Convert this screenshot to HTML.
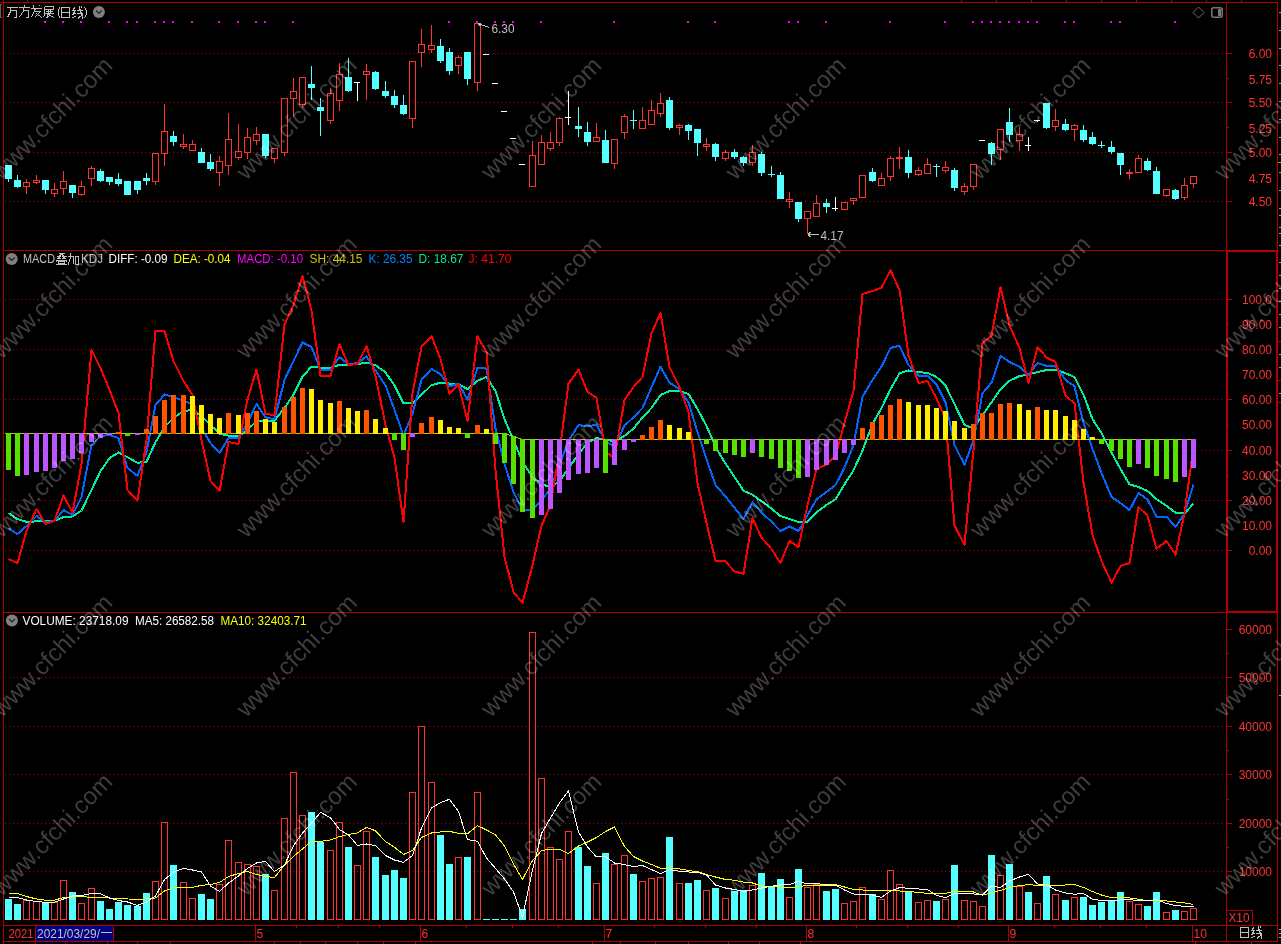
<!DOCTYPE html>
<html><head><meta charset="utf-8"><style>
html,body{margin:0;padding:0;background:#000;width:1281px;height:944px;overflow:hidden;position:relative}
text{font-family:"Liberation Sans",sans-serif}
</style></head><body>
<svg width="1281" height="944" viewBox="0 0 1281 944" shape-rendering="crispEdges" style="position:absolute;left:0;top:0;will-change:transform" font-family="Liberation Sans, sans-serif">
<rect x="0" y="0" width="1281" height="944" fill="#000"/>
<line x1="5" y1="53.5" x2="1223" y2="53.5" stroke="#b00000" stroke-width="1" stroke-dasharray="1 3"/>
<line x1="5" y1="102.5" x2="1223" y2="102.5" stroke="#b00000" stroke-width="1" stroke-dasharray="1 3"/>
<line x1="5" y1="152.5" x2="1223" y2="152.5" stroke="#b00000" stroke-width="1" stroke-dasharray="1 3"/>
<line x1="5" y1="201.5" x2="1223" y2="201.5" stroke="#b00000" stroke-width="1" stroke-dasharray="1 3"/>
<line x1="5" y1="299.5" x2="1223" y2="299.5" stroke="#b00000" stroke-width="1" stroke-dasharray="1 3"/>
<line x1="5" y1="349.5" x2="1223" y2="349.5" stroke="#b00000" stroke-width="1" stroke-dasharray="1 3"/>
<line x1="5" y1="399.5" x2="1223" y2="399.5" stroke="#b00000" stroke-width="1" stroke-dasharray="1 3"/>
<line x1="5" y1="450.5" x2="1223" y2="450.5" stroke="#b00000" stroke-width="1" stroke-dasharray="1 3"/>
<line x1="5" y1="500.5" x2="1223" y2="500.5" stroke="#b00000" stroke-width="1" stroke-dasharray="1 3"/>
<line x1="5" y1="550.5" x2="1223" y2="550.5" stroke="#b00000" stroke-width="1" stroke-dasharray="1 3"/>
<line x1="5" y1="677.5" x2="1223" y2="677.5" stroke="#b00000" stroke-width="1" stroke-dasharray="1 3"/>
<line x1="5" y1="726.5" x2="1223" y2="726.5" stroke="#b00000" stroke-width="1" stroke-dasharray="1 3"/>
<line x1="5" y1="774.5" x2="1223" y2="774.5" stroke="#b00000" stroke-width="1" stroke-dasharray="1 3"/>
<line x1="5" y1="823.5" x2="1223" y2="823.5" stroke="#b00000" stroke-width="1" stroke-dasharray="1 3"/>
<line x1="5" y1="871.5" x2="1223" y2="871.5" stroke="#b00000" stroke-width="1" stroke-dasharray="1 3"/>
<rect x="0" y="2" width="1278" height="1" fill="#b00000"/>
<rect x="3" y="2" width="1" height="940" fill="#b00000"/>
<rect x="1226" y="2" width="1" height="940" fill="#b00000"/>
<rect x="1277" y="2" width="1" height="940" fill="#b00000"/>
<rect x="3" y="250" width="1275" height="1" fill="#b00000"/>
<rect x="3" y="612" width="1275" height="1" fill="#b00000"/>
<rect x="3" y="925" width="1275" height="1" fill="#b00000"/>
<rect x="3" y="941" width="1275" height="1" fill="#b00000"/>
<rect x="1227" y="251" width="1" height="362" fill="#b00000"/>
<rect x="1276" y="251" width="1" height="362" fill="#b00000"/>
<rect x="1226" y="251" width="52" height="1" fill="#b00000"/>
<rect x="1226" y="611" width="52" height="1" fill="#b00000"/>
<rect x="3" y="0" width="1" height="3" fill="#b00000"/>
<rect x="27" y="0" width="1" height="3" fill="#b00000"/>
<rect x="961" y="0" width="1" height="2" fill="#b00000"/>
<rect x="996" y="0" width="1" height="2" fill="#b00000"/>
<rect x="1031" y="0" width="1" height="2" fill="#b00000"/>
<rect x="1066" y="0" width="1" height="2" fill="#b00000"/>
<rect x="1101" y="0" width="1" height="2" fill="#b00000"/>
<rect x="1136" y="0" width="1" height="2" fill="#b00000"/>
<rect x="1171" y="0" width="1" height="2" fill="#b00000"/>
<rect x="1206" y="0" width="1" height="2" fill="#b00000"/>
<rect x="1241" y="0" width="1" height="2" fill="#b00000"/>
<rect x="1226" y="53" width="6" height="1" fill="#b00000"/>
<rect x="1226" y="102" width="6" height="1" fill="#b00000"/>
<rect x="1226" y="152" width="6" height="1" fill="#b00000"/>
<rect x="1226" y="201" width="6" height="1" fill="#b00000"/>
<rect x="1226" y="78" width="3" height="1" fill="#b00000"/>
<rect x="1226" y="127" width="3" height="1" fill="#b00000"/>
<rect x="1226" y="177" width="3" height="1" fill="#b00000"/>
<rect x="1226" y="299" width="6" height="1" fill="#b00000"/>
<rect x="1226" y="349" width="6" height="1" fill="#b00000"/>
<rect x="1226" y="399" width="6" height="1" fill="#b00000"/>
<rect x="1226" y="450" width="6" height="1" fill="#b00000"/>
<rect x="1226" y="500" width="6" height="1" fill="#b00000"/>
<rect x="1226" y="550" width="6" height="1" fill="#b00000"/>
<rect x="1226" y="324" width="3" height="1" fill="#b00000"/>
<rect x="1226" y="374" width="3" height="1" fill="#b00000"/>
<rect x="1226" y="425" width="3" height="1" fill="#b00000"/>
<rect x="1226" y="475" width="3" height="1" fill="#b00000"/>
<rect x="1226" y="525" width="3" height="1" fill="#b00000"/>
<rect x="1226" y="629" width="6" height="1" fill="#b00000"/>
<rect x="1226" y="677" width="6" height="1" fill="#b00000"/>
<rect x="1226" y="726" width="6" height="1" fill="#b00000"/>
<rect x="1226" y="774" width="6" height="1" fill="#b00000"/>
<rect x="1226" y="823" width="6" height="1" fill="#b00000"/>
<rect x="1226" y="871" width="6" height="1" fill="#b00000"/>
<rect x="1226" y="653" width="3" height="1" fill="#b00000"/>
<rect x="1226" y="701" width="3" height="1" fill="#b00000"/>
<rect x="1226" y="750" width="3" height="1" fill="#b00000"/>
<rect x="1226" y="799" width="3" height="1" fill="#b00000"/>
<rect x="1226" y="847" width="3" height="1" fill="#b00000"/>
<rect x="1252" y="910" width="1" height="16" fill="#b00000"/>
<rect x="1226" y="910" width="27" height="1" fill="#b00000"/>
<rect x="35" y="925" width="1" height="17" fill="#b00000"/>
<rect x="113" y="925" width="1" height="17" fill="#b00000"/>
<rect x="255" y="925" width="1" height="17" fill="#b00000"/>
<rect x="420" y="925" width="1" height="17" fill="#b00000"/>
<rect x="604" y="925" width="1" height="17" fill="#b00000"/>
<rect x="806" y="925" width="1" height="17" fill="#b00000"/>
<rect x="1008" y="925" width="1" height="17" fill="#b00000"/>
<rect x="1192" y="925" width="1" height="17" fill="#b00000"/>
<rect x="296" y="926" width="1" height="2" fill="#b00000"/>
<rect x="338" y="926" width="1" height="2" fill="#b00000"/>
<rect x="379" y="926" width="1" height="2" fill="#b00000"/>
<rect x="466" y="926" width="1" height="2" fill="#b00000"/>
<rect x="512" y="926" width="1" height="2" fill="#b00000"/>
<rect x="558" y="926" width="1" height="2" fill="#b00000"/>
<rect x="654" y="926" width="1" height="2" fill="#b00000"/>
<rect x="705" y="926" width="1" height="2" fill="#b00000"/>
<rect x="756" y="926" width="1" height="2" fill="#b00000"/>
<rect x="856" y="926" width="1" height="2" fill="#b00000"/>
<rect x="907" y="926" width="1" height="2" fill="#b00000"/>
<rect x="958" y="926" width="1" height="2" fill="#b00000"/>
<rect x="1054" y="926" width="1" height="2" fill="#b00000"/>
<rect x="1100" y="926" width="1" height="2" fill="#b00000"/>
<rect x="1146" y="926" width="1" height="2" fill="#b00000"/>
<rect x="3" y="942" width="1" height="2" fill="#b00000"/>
<rect x="35" y="942" width="1" height="2" fill="#b00000"/>
<rect x="65" y="942" width="1" height="2" fill="#b00000"/>
<rect x="107" y="942" width="1" height="2" fill="#b00000"/>
<rect x="137" y="942" width="1" height="2" fill="#b00000"/>
<rect x="170" y="942" width="1" height="2" fill="#b00000"/>
<rect x="274" y="942" width="1" height="2" fill="#b00000"/>
<rect x="300" y="942" width="1" height="2" fill="#b00000"/>
<rect x="325" y="942" width="1" height="2" fill="#b00000"/>
<rect x="357" y="942" width="1" height="2" fill="#b00000"/>
<rect x="383" y="942" width="1" height="2" fill="#b00000"/>
<rect x="415" y="942" width="1" height="2" fill="#b00000"/>
<rect x="592" y="942" width="1" height="2" fill="#b00000"/>
<rect x="620" y="942" width="1" height="2" fill="#b00000"/>
<rect x="655" y="942" width="1" height="2" fill="#b00000"/>
<rect x="688" y="942" width="1" height="2" fill="#b00000"/>
<rect x="728" y="942" width="1" height="2" fill="#b00000"/>
<rect x="759" y="942" width="1" height="2" fill="#b00000"/>
<rect x="800" y="942" width="1" height="2" fill="#b00000"/>
<rect x="1195" y="942" width="1" height="2" fill="#b00000"/>
<rect x="1251" y="942" width="1" height="2" fill="#b00000"/>
<rect x="1279" y="12" width="2" height="1" fill="#a0a0a0"/>
<rect x="1279" y="30" width="2" height="1" fill="#a0a0a0"/>
<rect x="1279" y="48" width="2" height="1" fill="#a0a0a0"/>
<rect x="1279" y="65" width="2" height="1" fill="#a0a0a0"/>
<rect x="1279" y="83" width="2" height="1" fill="#a0a0a0"/>
<rect x="1279" y="101" width="2" height="1" fill="#a0a0a0"/>
<rect x="1279" y="119" width="2" height="1" fill="#a0a0a0"/>
<rect x="1279" y="137" width="2" height="1" fill="#a0a0a0"/>
<rect x="1279" y="154" width="2" height="1" fill="#a0a0a0"/>
<rect x="1279" y="172" width="2" height="1" fill="#a0a0a0"/>
<rect x="1279" y="190" width="2" height="1" fill="#a0a0a0"/>
<rect x="1279" y="208" width="2" height="1" fill="#a0a0a0"/>
<rect x="1279" y="215" width="2" height="1" fill="#a0a0a0"/>
<rect x="1279" y="227" width="2" height="1" fill="#a0a0a0"/>
<rect x="1279" y="233" width="2" height="1" fill="#a0a0a0"/>
<rect x="1279" y="245" width="2" height="1" fill="#a0a0a0"/>
<rect x="1279" y="262" width="2" height="1" fill="#a0a0a0"/>
<rect x="1279" y="275" width="2" height="1" fill="#a0a0a0"/>
<rect x="1279" y="288" width="2" height="1" fill="#a0a0a0"/>
<rect x="1279" y="301" width="2" height="1" fill="#a0a0a0"/>
<rect x="1279" y="314" width="2" height="1" fill="#a0a0a0"/>
<rect x="1279" y="327" width="2" height="1" fill="#a0a0a0"/>
<rect x="1279" y="354" width="2" height="1" fill="#a0a0a0"/>
<rect x="1279" y="367" width="2" height="1" fill="#a0a0a0"/>
<rect x="1279" y="393" width="2" height="1" fill="#a0a0a0"/>
<rect x="1278" y="341" width="3" height="1" fill="#b00000"/>
<rect x="1278" y="380" width="3" height="1" fill="#b00000"/>
<rect x="1278" y="402" width="3" height="1" fill="#b00000"/>
<rect x="1278" y="162" width="3" height="1" fill="#c8a000"/>
<rect x="1279" y="695" width="2" height="1" fill="#a0a0a0"/>
<rect x="1279" y="929" width="2" height="1" fill="#a0a0a0"/>
<rect x="1279" y="933" width="2" height="1" fill="#a0a0a0"/>
<rect x="1279" y="937" width="2" height="1" fill="#a0a0a0"/>
<rect x="8" y="179" width="1" height="3" fill="#54ffff"/>
<rect x="5" y="165" width="7" height="14" fill="#54ffff"/>
<rect x="17" y="175" width="1" height="5" fill="#54ffff"/>
<rect x="17" y="187" width="1" height="1" fill="#54ffff"/>
<rect x="14" y="180" width="7" height="7" fill="#54ffff"/>
<rect x="26" y="179" width="1" height="3" fill="#ff3232"/>
<rect x="26" y="187" width="1" height="7" fill="#ff3232"/>
<rect x="23.5" y="182.5" width="6" height="4" fill="none" stroke="#ff3232" stroke-width="1"/>
<rect x="36" y="175" width="1" height="5" fill="#ff3232"/>
<rect x="36" y="183" width="1" height="1" fill="#ff3232"/>
<rect x="33.5" y="180.5" width="6" height="2" fill="none" stroke="#ff3232" stroke-width="1"/>
<rect x="45" y="190" width="1" height="4" fill="#54ffff"/>
<rect x="42" y="180" width="7" height="10" fill="#54ffff"/>
<rect x="54" y="183" width="1" height="6" fill="#ff3232"/>
<rect x="54" y="194" width="1" height="3" fill="#ff3232"/>
<rect x="51.5" y="189.5" width="6" height="4" fill="none" stroke="#ff3232" stroke-width="1"/>
<rect x="63" y="171" width="1" height="10" fill="#ff3232"/>
<rect x="63" y="189" width="1" height="6" fill="#ff3232"/>
<rect x="60.5" y="181.5" width="6" height="7" fill="none" stroke="#ff3232" stroke-width="1"/>
<rect x="72" y="193" width="1" height="5" fill="#54ffff"/>
<rect x="69" y="185" width="7" height="8" fill="#54ffff"/>
<rect x="81" y="181" width="1" height="5" fill="#ff3232"/>
<rect x="81" y="195" width="1" height="1" fill="#ff3232"/>
<rect x="78.5" y="186.5" width="6" height="8" fill="none" stroke="#ff3232" stroke-width="1"/>
<rect x="91" y="166" width="1" height="2" fill="#ff3232"/>
<rect x="91" y="179" width="1" height="7" fill="#ff3232"/>
<rect x="88.5" y="168.5" width="6" height="10" fill="none" stroke="#ff3232" stroke-width="1"/>
<rect x="100" y="169" width="1" height="2" fill="#54ffff"/>
<rect x="100" y="181" width="1" height="1" fill="#54ffff"/>
<rect x="97" y="171" width="7" height="10" fill="#54ffff"/>
<rect x="109" y="182" width="1" height="3" fill="#54ffff"/>
<rect x="106" y="177" width="7" height="5" fill="#54ffff"/>
<rect x="118" y="173" width="1" height="6" fill="#54ffff"/>
<rect x="118" y="184" width="1" height="2" fill="#54ffff"/>
<rect x="115" y="179" width="7" height="5" fill="#54ffff"/>
<rect x="124" y="181" width="7" height="14" fill="#54ffff"/>
<rect x="137" y="190" width="1" height="4" fill="#54ffff"/>
<rect x="134" y="181" width="7" height="9" fill="#54ffff"/>
<rect x="146" y="173" width="1" height="5" fill="#54ffff"/>
<rect x="146" y="181" width="1" height="4" fill="#54ffff"/>
<rect x="143" y="178" width="7" height="3" fill="#54ffff"/>
<rect x="155" y="182" width="1" height="3" fill="#ff3232"/>
<rect x="152.5" y="153.5" width="6" height="28" fill="none" stroke="#ff3232" stroke-width="1"/>
<rect x="164" y="104" width="1" height="27" fill="#ff3232"/>
<rect x="164" y="154" width="1" height="12" fill="#ff3232"/>
<rect x="161.5" y="131.5" width="6" height="22" fill="none" stroke="#ff3232" stroke-width="1"/>
<rect x="173" y="131" width="1" height="5" fill="#54ffff"/>
<rect x="173" y="142" width="1" height="4" fill="#54ffff"/>
<rect x="170" y="136" width="7" height="6" fill="#54ffff"/>
<rect x="183" y="134" width="1" height="10" fill="#ff3232"/>
<rect x="183" y="147" width="1" height="2" fill="#ff3232"/>
<rect x="180.5" y="144.5" width="6" height="2" fill="none" stroke="#ff3232" stroke-width="1"/>
<rect x="192" y="140" width="1" height="4" fill="#ff3232"/>
<rect x="189.5" y="144.5" width="6" height="6" fill="none" stroke="#ff3232" stroke-width="1"/>
<rect x="201" y="148" width="1" height="4" fill="#54ffff"/>
<rect x="198" y="152" width="7" height="11" fill="#54ffff"/>
<rect x="210" y="154" width="1" height="8" fill="#54ffff"/>
<rect x="210" y="169" width="1" height="2" fill="#54ffff"/>
<rect x="207" y="162" width="7" height="7" fill="#54ffff"/>
<rect x="219" y="156" width="1" height="5" fill="#ff3232"/>
<rect x="219" y="173" width="1" height="13" fill="#ff3232"/>
<rect x="216.5" y="161.5" width="6" height="11" fill="none" stroke="#ff3232" stroke-width="1"/>
<rect x="228" y="113" width="1" height="26" fill="#ff3232"/>
<rect x="228" y="166" width="1" height="9" fill="#ff3232"/>
<rect x="225.5" y="139.5" width="6" height="26" fill="none" stroke="#ff3232" stroke-width="1"/>
<rect x="238" y="124" width="1" height="27" fill="#ff3232"/>
<rect x="238" y="158" width="1" height="2" fill="#ff3232"/>
<rect x="235.5" y="151.5" width="6" height="6" fill="none" stroke="#ff3232" stroke-width="1"/>
<rect x="247" y="128" width="1" height="9" fill="#ff3232"/>
<rect x="247" y="153" width="1" height="6" fill="#ff3232"/>
<rect x="244.5" y="137.5" width="6" height="15" fill="none" stroke="#ff3232" stroke-width="1"/>
<rect x="256" y="127" width="1" height="7" fill="#ff3232"/>
<rect x="256" y="141" width="1" height="4" fill="#ff3232"/>
<rect x="253.5" y="134.5" width="6" height="6" fill="none" stroke="#ff3232" stroke-width="1"/>
<rect x="265" y="156" width="1" height="2" fill="#54ffff"/>
<rect x="262" y="134" width="7" height="22" fill="#54ffff"/>
<rect x="274" y="159" width="1" height="4" fill="#ff3232"/>
<rect x="271.5" y="148.5" width="6" height="10" fill="none" stroke="#ff3232" stroke-width="1"/>
<rect x="284" y="153" width="1" height="3" fill="#ff3232"/>
<rect x="281.5" y="98.5" width="6" height="54" fill="none" stroke="#ff3232" stroke-width="1"/>
<rect x="293" y="78" width="1" height="13" fill="#ff3232"/>
<rect x="293" y="99" width="1" height="18" fill="#ff3232"/>
<rect x="290.5" y="91.5" width="6" height="7" fill="none" stroke="#ff3232" stroke-width="1"/>
<rect x="302" y="105" width="1" height="3" fill="#ff3232"/>
<rect x="299.5" y="77.5" width="6" height="27" fill="none" stroke="#ff3232" stroke-width="1"/>
<rect x="311" y="66" width="1" height="18" fill="#54ffff"/>
<rect x="311" y="88" width="1" height="12" fill="#54ffff"/>
<rect x="308" y="84" width="7" height="4" fill="#54ffff"/>
<rect x="320" y="98" width="1" height="9" fill="#54ffff"/>
<rect x="320" y="111" width="1" height="25" fill="#54ffff"/>
<rect x="317" y="107" width="7" height="4" fill="#54ffff"/>
<rect x="330" y="88" width="1" height="5" fill="#ff3232"/>
<rect x="330" y="121" width="1" height="3" fill="#ff3232"/>
<rect x="327.5" y="93.5" width="6" height="27" fill="none" stroke="#ff3232" stroke-width="1"/>
<rect x="339" y="63" width="1" height="11" fill="#ff3232"/>
<rect x="339" y="101" width="1" height="10" fill="#ff3232"/>
<rect x="336.5" y="74.5" width="6" height="26" fill="none" stroke="#ff3232" stroke-width="1"/>
<rect x="348" y="58" width="1" height="19" fill="#54ffff"/>
<rect x="348" y="91" width="1" height="1" fill="#54ffff"/>
<rect x="345" y="77" width="7" height="14" fill="#54ffff"/>
<rect x="354" y="82" width="6" height="1" fill="#ffffff"/>
<rect x="357" y="82" width="1" height="19" fill="#ffffff"/>
<rect x="366" y="64" width="1" height="7" fill="#ff3232"/>
<rect x="366" y="75" width="1" height="25" fill="#ff3232"/>
<rect x="363.5" y="71.5" width="6" height="3" fill="none" stroke="#ff3232" stroke-width="1"/>
<rect x="375" y="71" width="1" height="1" fill="#54ffff"/>
<rect x="375" y="89" width="1" height="1" fill="#54ffff"/>
<rect x="372" y="72" width="7" height="17" fill="#54ffff"/>
<rect x="385" y="81" width="1" height="10" fill="#54ffff"/>
<rect x="385" y="96" width="1" height="2" fill="#54ffff"/>
<rect x="382" y="91" width="7" height="5" fill="#54ffff"/>
<rect x="394" y="90" width="1" height="6" fill="#54ffff"/>
<rect x="394" y="105" width="1" height="3" fill="#54ffff"/>
<rect x="391" y="96" width="7" height="9" fill="#54ffff"/>
<rect x="403" y="95" width="1" height="10" fill="#54ffff"/>
<rect x="403" y="114" width="1" height="1" fill="#54ffff"/>
<rect x="400" y="105" width="7" height="9" fill="#54ffff"/>
<rect x="412" y="119" width="1" height="9" fill="#ff3232"/>
<rect x="409.5" y="61.5" width="6" height="57" fill="none" stroke="#ff3232" stroke-width="1"/>
<rect x="421" y="29" width="1" height="15" fill="#ff3232"/>
<rect x="421" y="53" width="1" height="14" fill="#ff3232"/>
<rect x="418.5" y="44.5" width="6" height="8" fill="none" stroke="#ff3232" stroke-width="1"/>
<rect x="431" y="25" width="1" height="20" fill="#ff3232"/>
<rect x="431" y="50" width="1" height="3" fill="#ff3232"/>
<rect x="428.5" y="45.5" width="6" height="4" fill="none" stroke="#ff3232" stroke-width="1"/>
<rect x="440" y="39" width="1" height="7" fill="#54ffff"/>
<rect x="440" y="61" width="1" height="2" fill="#54ffff"/>
<rect x="437" y="46" width="7" height="15" fill="#54ffff"/>
<rect x="449" y="48" width="1" height="4" fill="#54ffff"/>
<rect x="449" y="71" width="1" height="4" fill="#54ffff"/>
<rect x="446" y="52" width="7" height="19" fill="#54ffff"/>
<rect x="458" y="55" width="1" height="2" fill="#ff3232"/>
<rect x="458" y="66" width="1" height="8" fill="#ff3232"/>
<rect x="455.5" y="57.5" width="6" height="8" fill="none" stroke="#ff3232" stroke-width="1"/>
<rect x="467" y="79" width="1" height="6" fill="#54ffff"/>
<rect x="464" y="52" width="7" height="27" fill="#54ffff"/>
<rect x="477" y="83" width="1" height="8" fill="#ff3232"/>
<rect x="474.5" y="23.5" width="6" height="59" fill="none" stroke="#ff3232" stroke-width="1"/>
<rect x="483" y="54" width="6" height="1" fill="#ffffff"/>
<rect x="492" y="83" width="6" height="1" fill="#ffffff"/>
<rect x="501" y="111" width="6" height="1" fill="#ffffff"/>
<rect x="510" y="138" width="6" height="1" fill="#ffffff"/>
<rect x="519" y="164" width="6" height="1" fill="#ffffff"/>
<rect x="532" y="141" width="1" height="14" fill="#ff3232"/>
<rect x="529.5" y="155.5" width="6" height="31" fill="none" stroke="#ff3232" stroke-width="1"/>
<rect x="541" y="135" width="1" height="7" fill="#ff3232"/>
<rect x="538.5" y="142.5" width="6" height="22" fill="none" stroke="#ff3232" stroke-width="1"/>
<rect x="550" y="132" width="1" height="10" fill="#ff3232"/>
<rect x="550" y="149" width="1" height="2" fill="#ff3232"/>
<rect x="547.5" y="142.5" width="6" height="6" fill="none" stroke="#ff3232" stroke-width="1"/>
<rect x="559" y="117" width="1" height="1" fill="#ff3232"/>
<rect x="559" y="143" width="1" height="3" fill="#ff3232"/>
<rect x="556.5" y="118.5" width="6" height="24" fill="none" stroke="#ff3232" stroke-width="1"/>
<rect x="565" y="117" width="6" height="1" fill="#ffffff"/>
<rect x="568" y="91" width="1" height="34" fill="#ffffff"/>
<rect x="578" y="107" width="1" height="19" fill="#54ffff"/>
<rect x="578" y="129" width="1" height="8" fill="#54ffff"/>
<rect x="575" y="126" width="7" height="3" fill="#54ffff"/>
<rect x="587" y="122" width="1" height="10" fill="#54ffff"/>
<rect x="587" y="142" width="1" height="4" fill="#54ffff"/>
<rect x="584" y="132" width="7" height="10" fill="#54ffff"/>
<rect x="596" y="123" width="1" height="14" fill="#ff3232"/>
<rect x="593.5" y="137.5" width="6" height="4" fill="none" stroke="#ff3232" stroke-width="1"/>
<rect x="605" y="130" width="1" height="10" fill="#54ffff"/>
<rect x="602" y="140" width="7" height="23" fill="#54ffff"/>
<rect x="614" y="164" width="1" height="5" fill="#ff3232"/>
<rect x="611.5" y="139.5" width="6" height="24" fill="none" stroke="#ff3232" stroke-width="1"/>
<rect x="624" y="114" width="1" height="2" fill="#ff3232"/>
<rect x="624" y="133" width="1" height="6" fill="#ff3232"/>
<rect x="621.5" y="116.5" width="6" height="16" fill="none" stroke="#ff3232" stroke-width="1"/>
<rect x="630" y="120" width="7" height="1" fill="#54ffff"/>
<rect x="633" y="110" width="1" height="19" fill="#54ffff"/>
<rect x="642" y="107" width="1" height="13" fill="#ff3232"/>
<rect x="639.5" y="120.5" width="6" height="8" fill="none" stroke="#ff3232" stroke-width="1"/>
<rect x="651" y="100" width="1" height="10" fill="#ff3232"/>
<rect x="648.5" y="110.5" width="6" height="14" fill="none" stroke="#ff3232" stroke-width="1"/>
<rect x="660" y="93" width="1" height="10" fill="#ff3232"/>
<rect x="660" y="114" width="1" height="3" fill="#ff3232"/>
<rect x="657.5" y="103.5" width="6" height="10" fill="none" stroke="#ff3232" stroke-width="1"/>
<rect x="669" y="97" width="1" height="3" fill="#54ffff"/>
<rect x="669" y="128" width="1" height="2" fill="#54ffff"/>
<rect x="666" y="100" width="7" height="28" fill="#54ffff"/>
<rect x="679" y="124" width="1" height="1" fill="#ff3232"/>
<rect x="679" y="128" width="1" height="7" fill="#ff3232"/>
<rect x="676.5" y="125.5" width="6" height="2" fill="none" stroke="#ff3232" stroke-width="1"/>
<rect x="688" y="124" width="1" height="1" fill="#54ffff"/>
<rect x="688" y="131" width="1" height="9" fill="#54ffff"/>
<rect x="685" y="125" width="7" height="6" fill="#54ffff"/>
<rect x="697" y="143" width="1" height="13" fill="#54ffff"/>
<rect x="694" y="129" width="7" height="14" fill="#54ffff"/>
<rect x="706" y="138" width="1" height="6" fill="#ff3232"/>
<rect x="706" y="147" width="1" height="4" fill="#ff3232"/>
<rect x="703.5" y="144.5" width="6" height="2" fill="none" stroke="#ff3232" stroke-width="1"/>
<rect x="715" y="143" width="1" height="1" fill="#54ffff"/>
<rect x="715" y="157" width="1" height="4" fill="#54ffff"/>
<rect x="712" y="144" width="7" height="13" fill="#54ffff"/>
<rect x="725" y="150" width="1" height="2" fill="#ff3232"/>
<rect x="725" y="159" width="1" height="2" fill="#ff3232"/>
<rect x="722.5" y="152.5" width="6" height="6" fill="none" stroke="#ff3232" stroke-width="1"/>
<rect x="734" y="149" width="1" height="3" fill="#54ffff"/>
<rect x="734" y="157" width="1" height="2" fill="#54ffff"/>
<rect x="731" y="152" width="7" height="5" fill="#54ffff"/>
<rect x="743" y="156" width="1" height="1" fill="#54ffff"/>
<rect x="743" y="163" width="1" height="3" fill="#54ffff"/>
<rect x="740" y="157" width="7" height="6" fill="#54ffff"/>
<rect x="752" y="145" width="1" height="7" fill="#ff3232"/>
<rect x="752" y="163" width="1" height="3" fill="#ff3232"/>
<rect x="749.5" y="152.5" width="6" height="10" fill="none" stroke="#ff3232" stroke-width="1"/>
<rect x="761" y="152" width="1" height="2" fill="#54ffff"/>
<rect x="761" y="173" width="1" height="3" fill="#54ffff"/>
<rect x="758" y="154" width="7" height="19" fill="#54ffff"/>
<rect x="768" y="174" width="7" height="1" fill="#54ffff"/>
<rect x="771" y="166" width="1" height="11" fill="#54ffff"/>
<rect x="780" y="172" width="1" height="3" fill="#54ffff"/>
<rect x="777" y="175" width="7" height="24" fill="#54ffff"/>
<rect x="789" y="192" width="1" height="7" fill="#ff3232"/>
<rect x="789" y="202" width="1" height="6" fill="#ff3232"/>
<rect x="786.5" y="199.5" width="6" height="2" fill="none" stroke="#ff3232" stroke-width="1"/>
<rect x="798" y="219" width="1" height="3" fill="#54ffff"/>
<rect x="795" y="202" width="7" height="17" fill="#54ffff"/>
<rect x="807" y="219" width="1" height="15" fill="#ff3232"/>
<rect x="804.5" y="211.5" width="6" height="7" fill="none" stroke="#ff3232" stroke-width="1"/>
<rect x="816" y="195" width="1" height="8" fill="#ff3232"/>
<rect x="813.5" y="203.5" width="6" height="13" fill="none" stroke="#ff3232" stroke-width="1"/>
<rect x="826" y="199" width="1" height="4" fill="#54ffff"/>
<rect x="826" y="207" width="1" height="6" fill="#54ffff"/>
<rect x="823" y="203" width="7" height="4" fill="#54ffff"/>
<rect x="832" y="208" width="6" height="1" fill="#ffffff"/>
<rect x="835" y="197" width="1" height="14" fill="#ffffff"/>
<rect x="841.5" y="202.5" width="6" height="7" fill="none" stroke="#ff3232" stroke-width="1"/>
<rect x="853" y="201" width="1" height="4" fill="#ff3232"/>
<rect x="850.5" y="198.5" width="6" height="2" fill="none" stroke="#ff3232" stroke-width="1"/>
<rect x="859.5" y="175.5" width="6" height="22" fill="none" stroke="#ff3232" stroke-width="1"/>
<rect x="872" y="168" width="1" height="4" fill="#54ffff"/>
<rect x="872" y="181" width="1" height="1" fill="#54ffff"/>
<rect x="869" y="172" width="7" height="9" fill="#54ffff"/>
<rect x="881" y="173" width="1" height="5" fill="#ff3232"/>
<rect x="878.5" y="178.5" width="6" height="7" fill="none" stroke="#ff3232" stroke-width="1"/>
<rect x="890" y="156" width="1" height="2" fill="#ff3232"/>
<rect x="890" y="177" width="1" height="4" fill="#ff3232"/>
<rect x="887.5" y="158.5" width="6" height="18" fill="none" stroke="#ff3232" stroke-width="1"/>
<rect x="896" y="157" width="7" height="2" fill="#ff3232"/>
<rect x="899" y="147" width="1" height="22" fill="#ff3232"/>
<rect x="908" y="150" width="1" height="7" fill="#54ffff"/>
<rect x="908" y="173" width="1" height="5" fill="#54ffff"/>
<rect x="905" y="157" width="7" height="16" fill="#54ffff"/>
<rect x="918" y="167" width="1" height="3" fill="#ff3232"/>
<rect x="918" y="175" width="1" height="1" fill="#ff3232"/>
<rect x="915.5" y="170.5" width="6" height="4" fill="none" stroke="#ff3232" stroke-width="1"/>
<rect x="927" y="158" width="1" height="6" fill="#ff3232"/>
<rect x="924.5" y="164.5" width="6" height="9" fill="none" stroke="#ff3232" stroke-width="1"/>
<rect x="933" y="166" width="7" height="1" fill="#54ffff"/>
<rect x="936" y="164" width="1" height="13" fill="#54ffff"/>
<rect x="945" y="161" width="1" height="6" fill="#ff3232"/>
<rect x="945" y="171" width="1" height="2" fill="#ff3232"/>
<rect x="942.5" y="167.5" width="6" height="3" fill="none" stroke="#ff3232" stroke-width="1"/>
<rect x="954" y="168" width="1" height="2" fill="#54ffff"/>
<rect x="954" y="188" width="1" height="3" fill="#54ffff"/>
<rect x="951" y="170" width="7" height="18" fill="#54ffff"/>
<rect x="964" y="183" width="1" height="3" fill="#ff3232"/>
<rect x="964" y="192" width="1" height="3" fill="#ff3232"/>
<rect x="961.5" y="186.5" width="6" height="5" fill="none" stroke="#ff3232" stroke-width="1"/>
<rect x="973" y="187" width="1" height="3" fill="#ff3232"/>
<rect x="970.5" y="164.5" width="6" height="22" fill="none" stroke="#ff3232" stroke-width="1"/>
<rect x="979" y="140" width="6" height="1" fill="#ffffff"/>
<rect x="991" y="142" width="1" height="1" fill="#54ffff"/>
<rect x="991" y="154" width="1" height="11" fill="#54ffff"/>
<rect x="988" y="143" width="7" height="11" fill="#54ffff"/>
<rect x="1000" y="150" width="1" height="10" fill="#ff3232"/>
<rect x="997.5" y="129.5" width="6" height="20" fill="none" stroke="#ff3232" stroke-width="1"/>
<rect x="1009" y="108" width="1" height="14" fill="#54ffff"/>
<rect x="1009" y="135" width="1" height="7" fill="#54ffff"/>
<rect x="1006" y="122" width="7" height="13" fill="#54ffff"/>
<rect x="1019" y="127" width="1" height="7" fill="#ff3232"/>
<rect x="1019" y="141" width="1" height="10" fill="#ff3232"/>
<rect x="1016.5" y="134.5" width="6" height="6" fill="none" stroke="#ff3232" stroke-width="1"/>
<rect x="1025" y="145" width="6" height="1" fill="#ffffff"/>
<rect x="1028" y="137" width="1" height="14" fill="#ffffff"/>
<rect x="1034" y="120" width="6" height="1" fill="#ffffff"/>
<rect x="1037" y="120" width="1" height="2" fill="#ffffff"/>
<rect x="1046" y="128" width="1" height="1" fill="#54ffff"/>
<rect x="1043" y="103" width="7" height="25" fill="#54ffff"/>
<rect x="1055" y="109" width="1" height="11" fill="#ff3232"/>
<rect x="1055" y="127" width="1" height="4" fill="#ff3232"/>
<rect x="1052.5" y="120.5" width="6" height="6" fill="none" stroke="#ff3232" stroke-width="1"/>
<rect x="1065" y="119" width="1" height="5" fill="#54ffff"/>
<rect x="1065" y="130" width="1" height="1" fill="#54ffff"/>
<rect x="1062" y="124" width="7" height="6" fill="#54ffff"/>
<rect x="1074" y="124" width="1" height="1" fill="#ff3232"/>
<rect x="1074" y="130" width="1" height="11" fill="#ff3232"/>
<rect x="1071.5" y="125.5" width="6" height="4" fill="none" stroke="#ff3232" stroke-width="1"/>
<rect x="1083" y="125" width="1" height="5" fill="#54ffff"/>
<rect x="1083" y="140" width="1" height="2" fill="#54ffff"/>
<rect x="1080" y="130" width="7" height="10" fill="#54ffff"/>
<rect x="1092" y="132" width="1" height="5" fill="#54ffff"/>
<rect x="1092" y="144" width="1" height="1" fill="#54ffff"/>
<rect x="1089" y="137" width="7" height="7" fill="#54ffff"/>
<rect x="1098" y="145" width="7" height="1" fill="#54ffff"/>
<rect x="1101" y="141" width="1" height="7" fill="#54ffff"/>
<rect x="1111" y="141" width="1" height="6" fill="#54ffff"/>
<rect x="1111" y="152" width="1" height="2" fill="#54ffff"/>
<rect x="1108" y="147" width="7" height="5" fill="#54ffff"/>
<rect x="1120" y="165" width="1" height="10" fill="#54ffff"/>
<rect x="1117" y="153" width="7" height="12" fill="#54ffff"/>
<rect x="1126" y="172" width="7" height="2" fill="#ff3232"/>
<rect x="1129" y="169" width="1" height="10" fill="#ff3232"/>
<rect x="1138" y="155" width="1" height="3" fill="#ff3232"/>
<rect x="1135.5" y="158.5" width="6" height="14" fill="none" stroke="#ff3232" stroke-width="1"/>
<rect x="1147" y="158" width="1" height="3" fill="#54ffff"/>
<rect x="1147" y="170" width="1" height="1" fill="#54ffff"/>
<rect x="1144" y="161" width="7" height="9" fill="#54ffff"/>
<rect x="1156" y="167" width="1" height="4" fill="#54ffff"/>
<rect x="1153" y="171" width="7" height="23" fill="#54ffff"/>
<rect x="1166" y="196" width="1" height="1" fill="#ff3232"/>
<rect x="1163.5" y="189.5" width="6" height="6" fill="none" stroke="#ff3232" stroke-width="1"/>
<rect x="1175" y="189" width="1" height="1" fill="#54ffff"/>
<rect x="1175" y="199" width="1" height="1" fill="#54ffff"/>
<rect x="1172" y="190" width="7" height="9" fill="#54ffff"/>
<rect x="1184" y="178" width="1" height="7" fill="#ff3232"/>
<rect x="1184" y="198" width="1" height="2" fill="#ff3232"/>
<rect x="1181.5" y="185.5" width="6" height="12" fill="none" stroke="#ff3232" stroke-width="1"/>
<rect x="1193" y="184" width="1" height="4" fill="#ff3232"/>
<rect x="1190.5" y="176.5" width="6" height="7" fill="none" stroke="#ff3232" stroke-width="1"/>
<rect x="44" y="21" width="2" height="2" fill="#ff00ff"/>
<rect x="62" y="21" width="2" height="2" fill="#ff00ff"/>
<rect x="80" y="21" width="2" height="2" fill="#ff00ff"/>
<rect x="108" y="21" width="2" height="2" fill="#ff00ff"/>
<rect x="126" y="21" width="2" height="2" fill="#ff00ff"/>
<rect x="136" y="21" width="2" height="2" fill="#ff00ff"/>
<rect x="154" y="21" width="2" height="2" fill="#ff00ff"/>
<rect x="163" y="21" width="2" height="2" fill="#ff00ff"/>
<rect x="172" y="21" width="2" height="2" fill="#ff00ff"/>
<rect x="191" y="21" width="2" height="2" fill="#ff00ff"/>
<rect x="218" y="21" width="2" height="2" fill="#ff00ff"/>
<rect x="237" y="21" width="2" height="2" fill="#ff00ff"/>
<rect x="255" y="21" width="2" height="2" fill="#ff00ff"/>
<rect x="264" y="21" width="2" height="2" fill="#ff00ff"/>
<rect x="292" y="21" width="2" height="2" fill="#ff00ff"/>
<rect x="448" y="21" width="2" height="2" fill="#ff00ff"/>
<rect x="476" y="21" width="2" height="2" fill="#ff00ff"/>
<rect x="494" y="21" width="2" height="2" fill="#ff00ff"/>
<rect x="503" y="21" width="2" height="2" fill="#ff00ff"/>
<rect x="512" y="21" width="2" height="2" fill="#ff00ff"/>
<rect x="540" y="21" width="2" height="2" fill="#ff00ff"/>
<rect x="613" y="21" width="2" height="2" fill="#ff00ff"/>
<rect x="687" y="21" width="2" height="2" fill="#ff00ff"/>
<rect x="714" y="21" width="2" height="2" fill="#ff00ff"/>
<rect x="788" y="21" width="2" height="2" fill="#ff00ff"/>
<rect x="797" y="21" width="2" height="2" fill="#ff00ff"/>
<rect x="825" y="21" width="2" height="2" fill="#ff00ff"/>
<rect x="889" y="21" width="2" height="2" fill="#ff00ff"/>
<rect x="944" y="21" width="2" height="2" fill="#ff00ff"/>
<rect x="972" y="21" width="2" height="2" fill="#ff00ff"/>
<rect x="981" y="21" width="2" height="2" fill="#ff00ff"/>
<rect x="990" y="21" width="2" height="2" fill="#ff00ff"/>
<rect x="999" y="21" width="2" height="2" fill="#ff00ff"/>
<rect x="1008" y="21" width="2" height="2" fill="#ff00ff"/>
<rect x="1018" y="21" width="2" height="2" fill="#ff00ff"/>
<rect x="1027" y="21" width="2" height="2" fill="#ff00ff"/>
<rect x="1036" y="21" width="2" height="2" fill="#ff00ff"/>
<rect x="1064" y="21" width="2" height="2" fill="#ff00ff"/>
<rect x="1073" y="21" width="2" height="2" fill="#ff00ff"/>
<rect x="1110" y="21" width="2" height="2" fill="#ff00ff"/>
<rect x="1119" y="21" width="2" height="2" fill="#ff00ff"/>
<rect x="1174" y="21" width="2" height="2" fill="#ff00ff"/>
<g stroke="#c0c0c0" stroke-width="1" fill="none">
<path d="M478,23.5L489,27.5 M478,23.5H481 M478,23.5L480.5,26"/>
<path d="M808,234.5H819 M808,234.5L810.5,232 M808,234.5L810.5,237"/>
</g>
<text x="491.5" y="33" fill="#c0c0c0" font-size="12" textLength="23" lengthAdjust="spacingAndGlyphs">6.30</text>
<text x="820.5" y="240" fill="#c0c0c0" font-size="12" textLength="23" lengthAdjust="spacingAndGlyphs">4.17</text>
<defs><clipPath id="cm"><rect x="4" y="251" width="1222" height="360"/></clipPath></defs>
<g clip-path="url(#cm)" shape-rendering="crispEdges">
<polyline points="8.5,513.3 17.5,519.0 26.5,521.8 36.5,521.4 45.5,521.2 54.5,520.8 63.5,517.1 72.5,516.5 81.5,510.5 91.5,490.0 100.5,471.2 109.5,458.1 118.5,452.5 127.5,457.2 137.5,462.8 146.5,461.8 155.5,442.2 164.5,427.0 173.5,418.0 183.5,411.0 192.5,410.0 201.5,416.0 210.5,425.0 219.5,433.7 228.5,435.6 238.5,436.5 247.5,429.5 256.5,421.4 265.5,421.4 274.5,420.7 284.5,407.9 293.5,394.8 302.5,376.5 311.5,366.7 320.5,367.7 330.5,367.7 339.5,364.9 348.5,364.5 357.5,364.0 366.5,362.6 375.5,365.2 385.5,372.4 394.5,385.5 403.5,403.3 412.5,403.3 421.5,394.8 431.5,385.1 440.5,382.7 449.5,383.6 458.5,384.0 467.5,389.2 477.5,380.8 486.5,377.0 495.5,391.0 504.5,419.2 513.5,440.0 522.5,462.0 532.5,477.0 541.5,484.0 550.5,487.5 559.5,481.0 568.5,468.5 578.5,454.0 587.5,443.0 596.5,438.0 605.5,440.0 614.5,441.0 624.5,436.0 633.5,428.5 642.5,417.5 651.5,408.0 660.5,395.0 669.5,391.0 679.5,391.0 688.5,394.0 697.5,409.0 706.5,426.0 715.5,446.9 725.5,463.7 734.5,476.8 743.5,490.9 752.5,494.6 761.5,501.2 771.5,508.7 780.5,516.1 789.5,519.0 798.5,522.1 807.5,521.8 816.5,512.4 826.5,504.9 835.5,499.3 844.5,484.3 853.5,470.3 862.5,450.6 872.5,424.0 881.5,408.0 890.5,389.2 899.5,373.3 908.5,370.5 918.5,372.2 927.5,372.8 936.5,377.0 945.5,385.5 954.5,404.2 964.5,424.8 973.5,428.5 982.5,415.4 991.5,402.3 1000.5,389.2 1009.5,380.8 1019.5,376.1 1028.5,374.6 1037.5,372.0 1046.5,370.1 1055.5,369.6 1065.5,373.3 1074.5,377.0 1083.5,394.8 1092.5,419.2 1101.5,433.0 1111.5,452.5 1120.5,469.0 1129.5,484.3 1138.5,487.0 1147.5,491.0 1156.5,499.3 1166.5,505.9 1175.5,512.7 1184.5,513.3 1193.5,503.8" fill="none" stroke="#00f0a0" stroke-width="2" stroke-linejoin="round"/>
<polyline points="8.5,528.3 17.5,534.0 26.5,526.0 36.5,516.0 45.5,522.0 54.5,521.0 63.5,510.0 72.5,515.0 81.5,497.0 91.5,445.0 100.5,436.0 109.5,435.0 118.5,438.0 127.5,468.0 137.5,476.0 146.5,452.0 155.5,405.0 164.5,394.5 173.5,397.0 183.5,401.0 192.5,404.0 201.5,428.0 210.5,443.0 219.5,453.0 228.5,438.0 238.5,438.0 247.5,423.0 256.5,403.8 265.5,417.3 274.5,419.2 284.5,379.9 293.5,361.1 302.5,342.4 311.5,347.1 320.5,369.6 330.5,369.6 339.5,357.0 348.5,364.5 357.5,363.0 366.5,356.4 375.5,370.5 385.5,385.5 394.5,409.8 403.5,435.6 412.5,413.6 421.5,379.9 431.5,369.0 440.5,374.2 449.5,386.4 458.5,383.6 467.5,399.5 477.5,367.7 486.5,368.6 495.5,428.5 504.5,464.0 513.5,492.0 522.5,510.0 532.5,510.0 541.5,500.0 550.5,489.0 559.5,465.0 568.5,441.0 578.5,425.0 587.5,426.5 596.5,424.5 605.5,442.0 614.5,446.0 624.5,425.7 633.5,417.3 642.5,408.0 651.5,387.3 660.5,366.7 669.5,382.7 679.5,389.2 688.5,402.3 697.5,432.0 706.5,459.0 715.5,485.0 725.5,496.5 734.5,507.7 743.5,519.0 752.5,502.0 761.5,512.4 771.5,521.8 780.5,531.1 789.5,526.4 798.5,531.1 807.5,515.2 816.5,499.3 826.5,491.8 835.5,485.2 844.5,467.5 853.5,445.0 862.5,396.7 872.5,379.9 881.5,366.7 890.5,348.0 899.5,345.8 908.5,364.9 918.5,375.7 927.5,375.7 936.5,384.5 945.5,402.3 954.5,445.0 964.5,464.6 973.5,440.3 982.5,393.3 991.5,382.7 1000.5,355.9 1009.5,362.0 1019.5,366.7 1028.5,375.2 1037.5,363.0 1046.5,365.8 1055.5,365.8 1065.5,379.9 1074.5,386.4 1083.5,423.0 1092.5,448.7 1101.5,473.0 1111.5,497.0 1120.5,503.0 1129.5,510.1 1138.5,493.0 1147.5,499.5 1156.5,516.5 1166.5,516.5 1175.5,527.1 1184.5,513.3 1193.5,484.7" fill="none" stroke="#0066ff" stroke-width="2" stroke-linejoin="round"/>
<polyline points="8.5,559.0 17.5,563.0 26.5,531.0 36.5,509.0 45.5,524.0 54.5,521.0 63.5,495.5 72.5,513.0 81.5,464.0 91.5,350.0 100.5,368.0 109.5,390.0 118.5,413.0 127.5,490.0 137.5,500.5 146.5,440.0 155.5,331.0 164.5,331.0 173.5,361.0 183.5,381.0 192.5,395.0 201.5,440.0 210.5,481.0 219.5,491.0 228.5,442.0 238.5,444.0 247.5,399.5 256.5,369.6 265.5,413.6 274.5,415.4 284.5,324.6 293.5,305.0 302.5,276.0 311.5,310.6 320.5,375.7 330.5,375.7 339.5,344.0 348.5,365.0 357.5,364.0 366.5,346.0 375.5,376.0 385.5,425.0 394.5,458.0 403.5,522.0 412.5,393.0 421.5,347.0 431.5,336.0 440.5,359.0 449.5,394.0 458.5,384.5 467.5,421.0 477.5,336.4 486.5,351.8 495.5,470.0 504.5,557.0 513.5,592.0 522.5,603.0 532.5,565.0 541.5,526.0 550.5,505.0 559.5,452.0 568.5,383.6 578.5,369.6 587.5,392.0 596.5,397.6 605.5,452.0 614.5,458.0 624.5,400.0 633.5,387.0 642.5,377.0 651.5,333.0 660.5,313.0 669.5,367.0 679.5,387.0 688.5,412.0 697.5,483.0 706.5,523.0 715.5,561.0 725.5,561.5 734.5,571.4 743.5,573.8 752.5,518.0 761.5,537.7 771.5,549.0 780.5,563.0 789.5,541.0 798.5,547.0 807.5,505.0 816.5,469.0 826.5,464.6 835.5,456.0 844.5,423.0 853.5,391.0 862.5,294.0 872.5,291.0 881.5,287.7 890.5,270.3 899.5,290.0 908.5,355.5 918.5,383.0 927.5,381.0 936.5,398.6 945.5,419.0 954.5,525.5 964.5,545.0 973.5,450.0 982.5,343.3 991.5,335.8 1000.5,287.2 1009.5,325.5 1019.5,348.0 1028.5,382.7 1037.5,347.0 1046.5,357.4 1055.5,362.0 1065.5,395.8 1074.5,403.3 1083.5,482.4 1092.5,535.0 1101.5,561.0 1111.5,582.5 1120.5,566.0 1129.5,563.2 1138.5,507.0 1147.5,515.8 1156.5,548.7 1166.5,541.0 1175.5,554.7 1184.5,513.3 1193.5,446.5" fill="none" stroke="#ff0000" stroke-width="2" stroke-linejoin="round"/>
</g>
<polyline points="5,433.5 8.5,433.5 17.5,433.5 26.5,433.5 36.5,433.5 45.5,433.5 54.5,433.5 63.5,433.5 72.5,433.5 81.5,433.5 91.5,433.5 100.5,433.5 109.5,433.5 118.5,433.5 127.5,433.5 137.5,433.5 146.5,433.5 155.5,433.5 164.5,433.5 173.5,433.5 183.5,433.5 192.5,433.5 201.5,433.5 210.5,433.5 219.5,433.5 228.5,433.5 238.5,433.5 247.5,433.5 256.5,433.5 265.5,433.5 274.5,433.5 284.5,433.5 293.5,433.5 302.5,433.5 311.5,433.5 320.5,433.5 330.5,433.5 339.5,433.5 348.5,433.5 357.5,433.5 366.5,433.5 375.5,433.5 385.5,433.5 394.5,433.5 403.5,433.5 412.5,433.5 421.5,433.5 431.5,433.5 440.5,433.5 449.5,433.5 458.5,433.5 467.5,433.5 477.5,433.5 486.5,433.5 495.5,433.5 504.5,433.5 513.5,436.5 522.5,439.5 532.5,439.5 541.5,439.5 550.5,439.5 559.5,439.5 568.5,439.5 578.5,439.5 587.5,439.5 596.5,439.5 605.5,439.5 614.5,439.5 624.5,439.5 633.5,439.5 642.5,439.5 651.5,439.5 660.5,439.5 669.5,439.5 679.5,439.5 688.5,439.5 697.5,439.5 706.5,439.5 715.5,439.5 725.5,439.5 734.5,439.5 743.5,439.5 752.5,439.5 761.5,439.5 771.5,439.5 780.5,439.5 789.5,439.5 798.5,439.5 807.5,439.5 816.5,439.5 826.5,439.5 835.5,439.5 844.5,439.5 853.5,439.5 862.5,439.5 872.5,439.5 881.5,439.5 890.5,439.5 899.5,439.5 908.5,439.5 918.5,439.5 927.5,439.5 936.5,439.5 945.5,439.5 954.5,439.5 964.5,439.5 973.5,439.5 982.5,439.5 991.5,439.5 1000.5,439.5 1009.5,439.5 1019.5,439.5 1028.5,439.5 1037.5,439.5 1046.5,439.5 1055.5,439.5 1065.5,439.5 1074.5,439.5 1083.5,439.5 1092.5,439.5 1101.5,439.5 1111.5,439.5 1120.5,439.5 1129.5,439.5 1138.5,439.5 1147.5,439.5 1156.5,439.5 1166.5,439.5 1175.5,439.5 1184.5,439.5 1193.5,439.5 1196,439.5" fill="none" stroke="#c8c800" stroke-width="1"/>
<rect x="6" y="433" width="5" height="37" fill="#55e000"/>
<rect x="15" y="433" width="5" height="43" fill="#55e000"/>
<rect x="24" y="433" width="5" height="42" fill="#bb55ff"/>
<rect x="34" y="433" width="5" height="39" fill="#bb55ff"/>
<rect x="43" y="433" width="5" height="38" fill="#bb55ff"/>
<rect x="52" y="433" width="5" height="35" fill="#bb55ff"/>
<rect x="61" y="433" width="5" height="28" fill="#bb55ff"/>
<rect x="70" y="433" width="5" height="26" fill="#bb55ff"/>
<rect x="79" y="433" width="5" height="20" fill="#bb55ff"/>
<rect x="89" y="433" width="5" height="9" fill="#bb55ff"/>
<rect x="98" y="433" width="5" height="5" fill="#bb55ff"/>
<rect x="107" y="433" width="5" height="2" fill="#bb55ff"/>
<rect x="116" y="432" width="5" height="2" fill="#ff5500"/>
<rect x="125" y="433" width="5" height="3" fill="#55e000"/>
<rect x="135" y="433" width="5" height="2" fill="#bb55ff"/>
<rect x="144" y="429" width="5" height="5" fill="#ff5500"/>
<rect x="153" y="416" width="5" height="18" fill="#ff5500"/>
<rect x="162" y="400" width="5" height="34" fill="#ff5500"/>
<rect x="171" y="395" width="5" height="39" fill="#ff5500"/>
<rect x="181" y="395" width="5" height="39" fill="#ff5500"/>
<rect x="190" y="396" width="5" height="38" fill="#ffee00"/>
<rect x="199" y="405" width="5" height="29" fill="#ffee00"/>
<rect x="208" y="414" width="5" height="20" fill="#ffee00"/>
<rect x="217" y="418" width="5" height="16" fill="#ffee00"/>
<rect x="226" y="413" width="5" height="21" fill="#ff5500"/>
<rect x="236" y="415" width="5" height="19" fill="#ffee00"/>
<rect x="245" y="413" width="5" height="21" fill="#ff5500"/>
<rect x="254" y="411" width="5" height="23" fill="#ff5500"/>
<rect x="263" y="419" width="5" height="15" fill="#ffee00"/>
<rect x="272" y="422" width="5" height="12" fill="#ffee00"/>
<rect x="282" y="407" width="5" height="27" fill="#ff5500"/>
<rect x="291" y="397" width="5" height="37" fill="#ff5500"/>
<rect x="300" y="388" width="5" height="46" fill="#ff5500"/>
<rect x="309" y="389" width="5" height="45" fill="#ffee00"/>
<rect x="318" y="400" width="5" height="34" fill="#ffee00"/>
<rect x="328" y="403" width="5" height="31" fill="#ffee00"/>
<rect x="337" y="401" width="5" height="33" fill="#ff5500"/>
<rect x="346" y="408" width="5" height="26" fill="#ffee00"/>
<rect x="355" y="411" width="5" height="23" fill="#ffee00"/>
<rect x="364" y="410" width="5" height="24" fill="#ff5500"/>
<rect x="373" y="419" width="5" height="15" fill="#ffee00"/>
<rect x="383" y="428" width="5" height="6" fill="#ffee00"/>
<rect x="392" y="433" width="5" height="7" fill="#55e000"/>
<rect x="401" y="433" width="5" height="17" fill="#55e000"/>
<rect x="410" y="433" width="5" height="4" fill="#bb55ff"/>
<rect x="419" y="423" width="5" height="11" fill="#ff5500"/>
<rect x="429" y="417" width="5" height="17" fill="#ff5500"/>
<rect x="438" y="420" width="5" height="14" fill="#ffee00"/>
<rect x="447" y="427" width="5" height="7" fill="#ffee00"/>
<rect x="456" y="428" width="5" height="6" fill="#ffee00"/>
<rect x="465" y="433" width="5" height="5" fill="#55e000"/>
<rect x="475" y="425" width="5" height="9" fill="#ff5500"/>
<rect x="484" y="429" width="5" height="5" fill="#ffee00"/>
<rect x="493" y="433" width="5" height="11" fill="#55e000"/>
<rect x="502" y="433" width="5" height="30" fill="#55e000"/>
<rect x="511" y="436" width="5" height="48" fill="#55e000"/>
<rect x="520" y="439" width="5" height="73" fill="#55e000"/>
<rect x="530" y="439" width="5" height="79" fill="#55e000"/>
<rect x="539" y="439" width="5" height="76" fill="#bb55ff"/>
<rect x="548" y="439" width="5" height="70" fill="#bb55ff"/>
<rect x="557" y="439" width="5" height="54" fill="#bb55ff"/>
<rect x="566" y="439" width="5" height="41" fill="#bb55ff"/>
<rect x="576" y="439" width="5" height="35" fill="#bb55ff"/>
<rect x="585" y="439" width="5" height="34" fill="#bb55ff"/>
<rect x="594" y="439" width="5" height="29" fill="#bb55ff"/>
<rect x="603" y="439" width="5" height="34" fill="#55e000"/>
<rect x="612" y="439" width="5" height="26" fill="#bb55ff"/>
<rect x="622" y="439" width="5" height="11" fill="#bb55ff"/>
<rect x="631" y="439" width="5" height="3" fill="#bb55ff"/>
<rect x="640" y="435" width="5" height="5" fill="#ff5500"/>
<rect x="649" y="427" width="5" height="13" fill="#ff5500"/>
<rect x="658" y="420" width="5" height="20" fill="#ff5500"/>
<rect x="667" y="425" width="5" height="15" fill="#ffee00"/>
<rect x="677" y="428" width="5" height="12" fill="#ffee00"/>
<rect x="686" y="432" width="5" height="8" fill="#ffee00"/>
<rect x="704" y="439" width="5" height="5" fill="#55e000"/>
<rect x="713" y="439" width="5" height="12" fill="#55e000"/>
<rect x="723" y="439" width="5" height="14" fill="#55e000"/>
<rect x="732" y="439" width="5" height="16" fill="#55e000"/>
<rect x="741" y="439" width="5" height="18" fill="#55e000"/>
<rect x="750" y="439" width="5" height="14" fill="#bb55ff"/>
<rect x="759" y="439" width="5" height="18" fill="#55e000"/>
<rect x="769" y="439" width="5" height="20" fill="#55e000"/>
<rect x="778" y="439" width="5" height="29" fill="#55e000"/>
<rect x="787" y="439" width="5" height="32" fill="#55e000"/>
<rect x="796" y="439" width="5" height="39" fill="#55e000"/>
<rect x="805" y="439" width="5" height="38" fill="#bb55ff"/>
<rect x="814" y="439" width="5" height="31" fill="#bb55ff"/>
<rect x="824" y="439" width="5" height="26" fill="#bb55ff"/>
<rect x="833" y="439" width="5" height="21" fill="#bb55ff"/>
<rect x="842" y="439" width="5" height="14" fill="#bb55ff"/>
<rect x="851" y="439" width="5" height="6" fill="#bb55ff"/>
<rect x="860" y="428" width="5" height="12" fill="#ff5500"/>
<rect x="870" y="422" width="5" height="18" fill="#ff5500"/>
<rect x="879" y="415" width="5" height="25" fill="#ff5500"/>
<rect x="888" y="405" width="5" height="35" fill="#ff5500"/>
<rect x="897" y="399" width="5" height="41" fill="#ff5500"/>
<rect x="906" y="402" width="5" height="38" fill="#ffee00"/>
<rect x="916" y="405" width="5" height="35" fill="#ffee00"/>
<rect x="925" y="405" width="5" height="35" fill="#ffee00"/>
<rect x="934" y="408" width="5" height="32" fill="#ffee00"/>
<rect x="943" y="411" width="5" height="29" fill="#ffee00"/>
<rect x="952" y="421" width="5" height="19" fill="#ffee00"/>
<rect x="962" y="428" width="5" height="12" fill="#ffee00"/>
<rect x="971" y="424" width="5" height="16" fill="#ff5500"/>
<rect x="980" y="413" width="5" height="27" fill="#ff5500"/>
<rect x="989" y="413" width="5" height="27" fill="#ff5500"/>
<rect x="998" y="404" width="5" height="36" fill="#ff5500"/>
<rect x="1007" y="403" width="5" height="37" fill="#ff5500"/>
<rect x="1017" y="404" width="5" height="36" fill="#ffee00"/>
<rect x="1026" y="410" width="5" height="30" fill="#ffee00"/>
<rect x="1035" y="407" width="5" height="33" fill="#ff5500"/>
<rect x="1044" y="410" width="5" height="30" fill="#ffee00"/>
<rect x="1053" y="410" width="5" height="30" fill="#ffee00"/>
<rect x="1063" y="416" width="5" height="24" fill="#ffee00"/>
<rect x="1072" y="420" width="5" height="20" fill="#ffee00"/>
<rect x="1081" y="429" width="5" height="11" fill="#ffee00"/>
<rect x="1090" y="437" width="5" height="3" fill="#ffee00"/>
<rect x="1099" y="439" width="5" height="5" fill="#55e000"/>
<rect x="1109" y="439" width="5" height="12" fill="#55e000"/>
<rect x="1118" y="439" width="5" height="20" fill="#55e000"/>
<rect x="1127" y="439" width="5" height="28" fill="#55e000"/>
<rect x="1136" y="439" width="5" height="25" fill="#bb55ff"/>
<rect x="1145" y="439" width="5" height="29" fill="#55e000"/>
<rect x="1154" y="439" width="5" height="37" fill="#55e000"/>
<rect x="1164" y="439" width="5" height="40" fill="#55e000"/>
<rect x="1173" y="439" width="5" height="43" fill="#55e000"/>
<rect x="1182" y="439" width="5" height="38" fill="#bb55ff"/>
<rect x="1191" y="439" width="5" height="29" fill="#bb55ff"/>
<rect x="5" y="899" width="7" height="21" fill="#54ffff"/>
<rect x="14" y="904" width="7" height="16" fill="#54ffff"/>
<rect x="23.5" y="900.5" width="6" height="19" fill="none" stroke="#ff3232" stroke-width="1"/>
<rect x="33.5" y="901.5" width="6" height="18" fill="none" stroke="#ff3232" stroke-width="1"/>
<rect x="42" y="902" width="7" height="18" fill="#54ffff"/>
<rect x="51.5" y="902.5" width="6" height="17" fill="none" stroke="#ff3232" stroke-width="1"/>
<rect x="60.5" y="880.5" width="6" height="39" fill="none" stroke="#ff3232" stroke-width="1"/>
<rect x="69" y="892" width="7" height="28" fill="#54ffff"/>
<rect x="78.5" y="903.5" width="6" height="16" fill="none" stroke="#ff3232" stroke-width="1"/>
<rect x="88.5" y="888.5" width="6" height="31" fill="none" stroke="#ff3232" stroke-width="1"/>
<rect x="97" y="901" width="7" height="19" fill="#54ffff"/>
<rect x="106" y="909" width="7" height="11" fill="#54ffff"/>
<rect x="115" y="902" width="7" height="18" fill="#54ffff"/>
<rect x="124" y="905" width="7" height="15" fill="#54ffff"/>
<rect x="134" y="906" width="7" height="14" fill="#54ffff"/>
<rect x="143" y="893" width="7" height="27" fill="#54ffff"/>
<rect x="152.5" y="881.5" width="6" height="38" fill="none" stroke="#ff3232" stroke-width="1"/>
<rect x="161.5" y="822.5" width="6" height="97" fill="none" stroke="#ff3232" stroke-width="1"/>
<rect x="170" y="865" width="7" height="55" fill="#54ffff"/>
<rect x="180.5" y="882.5" width="6" height="37" fill="none" stroke="#ff3232" stroke-width="1"/>
<rect x="189.5" y="898.5" width="6" height="21" fill="none" stroke="#ff3232" stroke-width="1"/>
<rect x="198" y="894" width="7" height="26" fill="#54ffff"/>
<rect x="207" y="899" width="7" height="21" fill="#54ffff"/>
<rect x="216.5" y="884.5" width="6" height="35" fill="none" stroke="#ff3232" stroke-width="1"/>
<rect x="225.5" y="840.5" width="6" height="79" fill="none" stroke="#ff3232" stroke-width="1"/>
<rect x="235.5" y="862.5" width="6" height="57" fill="none" stroke="#ff3232" stroke-width="1"/>
<rect x="244.5" y="864.5" width="6" height="55" fill="none" stroke="#ff3232" stroke-width="1"/>
<rect x="253.5" y="866.5" width="6" height="53" fill="none" stroke="#ff3232" stroke-width="1"/>
<rect x="262" y="874" width="7" height="46" fill="#54ffff"/>
<rect x="271.5" y="890.5" width="6" height="29" fill="none" stroke="#ff3232" stroke-width="1"/>
<rect x="281.5" y="818.5" width="6" height="101" fill="none" stroke="#ff3232" stroke-width="1"/>
<rect x="290.5" y="772.5" width="6" height="147" fill="none" stroke="#ff3232" stroke-width="1"/>
<rect x="299.5" y="815.5" width="6" height="104" fill="none" stroke="#ff3232" stroke-width="1"/>
<rect x="308" y="812" width="7" height="108" fill="#54ffff"/>
<rect x="317" y="842" width="7" height="78" fill="#54ffff"/>
<rect x="327.5" y="850.5" width="6" height="69" fill="none" stroke="#ff3232" stroke-width="1"/>
<rect x="336.5" y="822.5" width="6" height="97" fill="none" stroke="#ff3232" stroke-width="1"/>
<rect x="345" y="847" width="7" height="73" fill="#54ffff"/>
<rect x="354.5" y="865.5" width="6" height="54" fill="none" stroke="#ff3232" stroke-width="1"/>
<rect x="363.5" y="831.5" width="6" height="88" fill="none" stroke="#ff3232" stroke-width="1"/>
<rect x="372" y="857" width="7" height="63" fill="#54ffff"/>
<rect x="382" y="875" width="7" height="45" fill="#54ffff"/>
<rect x="391" y="870" width="7" height="50" fill="#54ffff"/>
<rect x="400" y="878" width="7" height="42" fill="#54ffff"/>
<rect x="409.5" y="792.5" width="6" height="127" fill="none" stroke="#ff3232" stroke-width="1"/>
<rect x="418.5" y="726.5" width="6" height="193" fill="none" stroke="#ff3232" stroke-width="1"/>
<rect x="428.5" y="782.5" width="6" height="137" fill="none" stroke="#ff3232" stroke-width="1"/>
<rect x="437" y="835" width="7" height="85" fill="#54ffff"/>
<rect x="446" y="864" width="7" height="56" fill="#54ffff"/>
<rect x="455.5" y="857.5" width="6" height="62" fill="none" stroke="#ff3232" stroke-width="1"/>
<rect x="464" y="857" width="7" height="63" fill="#54ffff"/>
<rect x="474.5" y="792.5" width="6" height="127" fill="none" stroke="#ff3232" stroke-width="1"/>
<rect x="483" y="919" width="7" height="1" fill="#54ffff"/>
<rect x="492" y="919" width="7" height="1" fill="#54ffff"/>
<rect x="501" y="919" width="7" height="1" fill="#54ffff"/>
<rect x="510" y="919" width="7" height="1" fill="#54ffff"/>
<rect x="519" y="909" width="7" height="11" fill="#54ffff"/>
<rect x="529.5" y="632.5" width="6" height="287" fill="none" stroke="#ff3232" stroke-width="1"/>
<rect x="538.5" y="778.5" width="6" height="141" fill="none" stroke="#ff3232" stroke-width="1"/>
<rect x="547.5" y="847.5" width="6" height="72" fill="none" stroke="#ff3232" stroke-width="1"/>
<rect x="556.5" y="859.5" width="6" height="60" fill="none" stroke="#ff3232" stroke-width="1"/>
<rect x="565.5" y="831.5" width="6" height="88" fill="none" stroke="#ff3232" stroke-width="1"/>
<rect x="575" y="847" width="7" height="73" fill="#54ffff"/>
<rect x="584" y="866" width="7" height="54" fill="#54ffff"/>
<rect x="593.5" y="883.5" width="6" height="36" fill="none" stroke="#ff3232" stroke-width="1"/>
<rect x="602" y="853" width="7" height="67" fill="#54ffff"/>
<rect x="611.5" y="864.5" width="6" height="55" fill="none" stroke="#ff3232" stroke-width="1"/>
<rect x="621.5" y="855.5" width="6" height="64" fill="none" stroke="#ff3232" stroke-width="1"/>
<rect x="630" y="874" width="7" height="46" fill="#54ffff"/>
<rect x="639.5" y="881.5" width="6" height="38" fill="none" stroke="#ff3232" stroke-width="1"/>
<rect x="648.5" y="878.5" width="6" height="41" fill="none" stroke="#ff3232" stroke-width="1"/>
<rect x="657.5" y="877.5" width="6" height="42" fill="none" stroke="#ff3232" stroke-width="1"/>
<rect x="666" y="837" width="7" height="83" fill="#54ffff"/>
<rect x="676.5" y="883.5" width="6" height="36" fill="none" stroke="#ff3232" stroke-width="1"/>
<rect x="685" y="883" width="7" height="37" fill="#54ffff"/>
<rect x="694" y="880" width="7" height="40" fill="#54ffff"/>
<rect x="703.5" y="890.5" width="6" height="29" fill="none" stroke="#ff3232" stroke-width="1"/>
<rect x="712" y="888" width="7" height="32" fill="#54ffff"/>
<rect x="722.5" y="898.5" width="6" height="21" fill="none" stroke="#ff3232" stroke-width="1"/>
<rect x="731" y="891" width="7" height="29" fill="#54ffff"/>
<rect x="740" y="890" width="7" height="30" fill="#54ffff"/>
<rect x="749.5" y="885.5" width="6" height="34" fill="none" stroke="#ff3232" stroke-width="1"/>
<rect x="758" y="873" width="7" height="47" fill="#54ffff"/>
<rect x="768" y="887" width="7" height="33" fill="#54ffff"/>
<rect x="777" y="879" width="7" height="41" fill="#54ffff"/>
<rect x="786.5" y="897.5" width="6" height="22" fill="none" stroke="#ff3232" stroke-width="1"/>
<rect x="795" y="869" width="7" height="51" fill="#54ffff"/>
<rect x="804.5" y="887.5" width="6" height="32" fill="none" stroke="#ff3232" stroke-width="1"/>
<rect x="813.5" y="884.5" width="6" height="35" fill="none" stroke="#ff3232" stroke-width="1"/>
<rect x="823" y="891" width="7" height="29" fill="#54ffff"/>
<rect x="832" y="889" width="7" height="31" fill="#54ffff"/>
<rect x="841.5" y="903.5" width="6" height="16" fill="none" stroke="#ff3232" stroke-width="1"/>
<rect x="850.5" y="901.5" width="6" height="18" fill="none" stroke="#ff3232" stroke-width="1"/>
<rect x="859.5" y="887.5" width="6" height="32" fill="none" stroke="#ff3232" stroke-width="1"/>
<rect x="869" y="894" width="7" height="26" fill="#54ffff"/>
<rect x="878.5" y="899.5" width="6" height="20" fill="none" stroke="#ff3232" stroke-width="1"/>
<rect x="887.5" y="870.5" width="6" height="49" fill="none" stroke="#ff3232" stroke-width="1"/>
<rect x="896.5" y="884.5" width="6" height="35" fill="none" stroke="#ff3232" stroke-width="1"/>
<rect x="905" y="892" width="7" height="28" fill="#54ffff"/>
<rect x="915.5" y="902.5" width="6" height="17" fill="none" stroke="#ff3232" stroke-width="1"/>
<rect x="924.5" y="900.5" width="6" height="19" fill="none" stroke="#ff3232" stroke-width="1"/>
<rect x="933" y="901" width="7" height="19" fill="#54ffff"/>
<rect x="942.5" y="899.5" width="6" height="20" fill="none" stroke="#ff3232" stroke-width="1"/>
<rect x="951" y="865" width="7" height="55" fill="#54ffff"/>
<rect x="961.5" y="900.5" width="6" height="19" fill="none" stroke="#ff3232" stroke-width="1"/>
<rect x="970.5" y="901.5" width="6" height="18" fill="none" stroke="#ff3232" stroke-width="1"/>
<rect x="979.5" y="906.5" width="6" height="13" fill="none" stroke="#ff3232" stroke-width="1"/>
<rect x="988" y="855" width="7" height="65" fill="#54ffff"/>
<rect x="997.5" y="875.5" width="6" height="44" fill="none" stroke="#ff3232" stroke-width="1"/>
<rect x="1006" y="864" width="7" height="56" fill="#54ffff"/>
<rect x="1016.5" y="886.5" width="6" height="33" fill="none" stroke="#ff3232" stroke-width="1"/>
<rect x="1025" y="892" width="7" height="28" fill="#54ffff"/>
<rect x="1034.5" y="903.5" width="6" height="16" fill="none" stroke="#ff3232" stroke-width="1"/>
<rect x="1043" y="876" width="7" height="44" fill="#54ffff"/>
<rect x="1052.5" y="894.5" width="6" height="25" fill="none" stroke="#ff3232" stroke-width="1"/>
<rect x="1062" y="900" width="7" height="20" fill="#54ffff"/>
<rect x="1071.5" y="897.5" width="6" height="22" fill="none" stroke="#ff3232" stroke-width="1"/>
<rect x="1080" y="897" width="7" height="23" fill="#54ffff"/>
<rect x="1089" y="905" width="7" height="15" fill="#54ffff"/>
<rect x="1098" y="902" width="7" height="18" fill="#54ffff"/>
<rect x="1108" y="901" width="7" height="19" fill="#54ffff"/>
<rect x="1117" y="892" width="7" height="28" fill="#54ffff"/>
<rect x="1126.5" y="901.5" width="6" height="18" fill="none" stroke="#ff3232" stroke-width="1"/>
<rect x="1135.5" y="904.5" width="6" height="15" fill="none" stroke="#ff3232" stroke-width="1"/>
<rect x="1144" y="906" width="7" height="14" fill="#54ffff"/>
<rect x="1153" y="892" width="7" height="28" fill="#54ffff"/>
<rect x="1163.5" y="912.5" width="6" height="7" fill="none" stroke="#ff3232" stroke-width="1"/>
<rect x="1172" y="910" width="7" height="10" fill="#54ffff"/>
<rect x="1181.5" y="911.5" width="6" height="8" fill="none" stroke="#ff3232" stroke-width="1"/>
<rect x="1190.5" y="908.5" width="6" height="11" fill="none" stroke="#ff3232" stroke-width="1"/>
<g shape-rendering="auto">
<polyline points="8.5,893.4 17.5,893.4 26.5,896.5 36.5,899.0 45.5,900.2 54.5,900.2 63.5,897.5 72.5,897.0 81.5,896.8 91.5,897.2 100.5,897.6 109.5,898.0 118.5,898.5 127.5,899.0 137.5,899.1 146.5,899.0 155.5,898.0 164.5,891.0 173.5,887.5 183.5,887.4 192.5,887.4 201.5,885.3 210.5,884.5 219.5,882.5 228.5,876.5 238.5,873.5 247.5,871.5 256.5,874.5 265.5,876.5 274.5,877.5 284.5,865.0 293.5,856.5 302.5,849.0 311.5,841.5 320.5,841.3 330.5,840.0 339.5,836.5 348.5,834.5 357.5,833.0 366.5,827.3 375.5,830.8 385.5,841.5 394.5,847.3 403.5,854.4 412.5,850.5 421.5,837.5 431.5,833.0 440.5,832.0 449.5,831.3 458.5,833.4 467.5,833.8 477.5,825.6 486.5,830.0 495.5,834.8 504.5,846.0 513.5,864.0 522.5,879.4 532.5,860.5 541.5,850.6 550.5,849.2 559.5,849.5 568.5,853.5 578.5,846.0 587.5,842.0 596.5,837.5 605.5,831.5 614.5,827.0 624.5,846.5 633.5,856.5 642.5,861.0 651.5,864.5 660.5,868.3 669.5,867.8 679.5,869.0 688.5,870.5 697.5,871.7 706.5,874.5 715.5,877.0 725.5,879.5 734.5,880.2 743.5,882.1 752.5,883.0 761.5,886.0 771.5,887.0 780.5,886.9 789.5,888.0 798.5,886.5 807.5,885.5 816.5,885.2 826.5,885.0 835.5,884.5 844.5,887.0 853.5,889.5 862.5,890.0 872.5,890.2 881.5,890.3 890.5,890.4 899.5,891.0 908.5,891.5 918.5,892.5 927.5,893.4 936.5,893.4 945.5,893.4 954.5,891.0 964.5,891.5 973.5,892.0 982.5,895.3 991.5,892.5 1000.5,890.5 1009.5,887.5 1019.5,885.5 1028.5,884.7 1037.5,885.3 1046.5,886.0 1055.5,885.5 1065.5,885.0 1074.5,884.5 1083.5,887.5 1092.5,891.5 1101.5,895.0 1111.5,897.7 1120.5,897.5 1129.5,898.0 1138.5,899.2 1147.5,901.0 1156.5,900.5 1166.5,901.0 1175.5,902.0 1184.5,903.0 1193.5,904.4" fill="none" stroke="#ffff00" stroke-width="1" shape-rendering="crispEdges"/>
<polyline points="8.5,897.6 17.5,897.6 26.5,900.0 36.5,901.5 45.5,902.3 54.5,902.3 63.5,899.0 72.5,896.0 81.5,895.5 91.5,893.5 100.5,893.7 109.5,898.0 118.5,900.5 127.5,902.0 137.5,905.4 146.5,902.0 155.5,896.0 164.5,879.6 173.5,872.0 183.5,868.5 192.5,870.0 201.5,872.0 210.5,886.0 219.5,891.5 228.5,883.0 238.5,876.0 247.5,868.5 256.5,863.0 265.5,861.4 274.5,871.5 284.5,865.0 293.5,845.7 302.5,833.0 311.5,823.0 320.5,812.4 330.5,817.7 339.5,829.5 348.5,835.0 357.5,845.5 366.5,844.0 375.5,845.7 385.5,855.5 394.5,860.0 403.5,862.3 412.5,855.5 421.5,828.0 431.5,808.0 440.5,802.5 449.5,799.3 458.5,811.6 467.5,839.5 477.5,841.3 486.5,858.0 495.5,868.4 504.5,879.0 513.5,892.0 522.5,917.0 532.5,870.0 541.5,833.5 550.5,818.0 559.5,803.0 568.5,791.0 578.5,832.0 587.5,847.0 596.5,857.0 605.5,856.5 614.5,863.0 624.5,864.6 633.5,866.5 642.5,865.5 651.5,869.6 660.5,873.5 669.5,869.7 679.5,871.2 688.5,872.0 697.5,872.3 706.5,875.0 715.5,885.0 725.5,888.0 734.5,889.5 743.5,891.3 752.5,890.0 761.5,888.0 771.5,886.2 780.5,885.0 789.5,884.5 798.5,881.3 807.5,884.0 816.5,883.5 826.5,885.0 835.5,885.0 844.5,890.0 853.5,894.0 862.5,894.3 872.5,895.0 881.5,897.5 890.5,891.0 899.5,887.6 908.5,888.3 918.5,889.0 927.5,889.5 936.5,895.4 945.5,897.5 954.5,893.7 964.5,893.2 973.5,894.0 982.5,894.8 991.5,886.0 1000.5,887.6 1009.5,881.0 1019.5,877.0 1028.5,874.3 1037.5,884.0 1046.5,884.5 1055.5,890.0 1065.5,893.0 1074.5,894.2 1083.5,893.5 1092.5,899.3 1101.5,900.5 1111.5,900.5 1120.5,900.0 1129.5,899.5 1138.5,900.8 1147.5,901.0 1156.5,899.5 1166.5,903.5 1175.5,905.5 1184.5,906.4 1193.5,906.4" fill="none" stroke="#ffffff" stroke-width="1" shape-rendering="crispEdges"/>
</g>
<g font-family="Liberation Sans, sans-serif">
<path d="M0,0.5H11 M3.5,0.5V4.5L0.5,10.5 M3.5,3.5H9.5V10.5H6.5" transform="translate(7,7)" fill="none" stroke="#c0c0c0" stroke-width="1"/>
<path d="M5.5,-1V1 M0,1.5H11 M4.5,1.5V5L0.5,11 M4.5,4.5H9.5V11H7" transform="translate(19,6)" fill="none" stroke="#c0c0c0" stroke-width="1"/>
<path d="M2.5,-1V2.5 M8,-1L9.5,0.5 M0,2.5H11 M4.5,2.5L0.5,11 M4,5.5H9.5L3.5,11.5 M5,7.5L11,11.5" transform="translate(31,6)" fill="none" stroke="#c0c0c0" stroke-width="1"/>
<path d="M1.5,0.5H10.5V3.5H1.5 M1.5,0.5V9L0.5,11.5 M3,5.5H10 M5.5,4V8 M7.5,4V8 M2,7.5H11 M4.5,8V11.5 M5.5,8.5L11,11.5 M3,11.5L7,9.5" transform="translate(43,6)" fill="none" stroke="#c0c0c0" stroke-width="1"/>
<path d="M3,0L1.5,3V8L3,11" transform="translate(57,7)" fill="none" stroke="#c0c0c0" stroke-width="1"/>
<path d="M0.5,0.5H8.5V10.5H0.5Z M0.5,5.5H8.5" transform="translate(61,7)" fill="none" stroke="#c0c0c0" stroke-width="1"/>
<path d="M3,0L0.5,3.5H3.5L0.5,7.5L4,6.5 M0,10.5L4,9.5 M5,3.5H11 M5,6.5H11 M7,-0.5L11,11.5 M9,-0.5L10,0.5 M11,7L6,11.5" transform="translate(72,7)" fill="none" stroke="#c0c0c0" stroke-width="1"/>
<path d="M0.5,0L2,3V8L0.5,11" transform="translate(84,7)" fill="none" stroke="#c0c0c0" stroke-width="1"/>
<circle cx="98.9" cy="11.9" r="6" fill="#808080" shape-rendering="auto"/>
<path d="M95.9,10.4 L98.9,13.4 L101.9,10.4" fill="none" stroke="#202020" stroke-width="1.2" shape-rendering="auto"/>
<path d="M2,4.5H0.5V17.5H2" fill="none" stroke="#606060" stroke-width="1"/>
<path d="M1198.5,7L1204,12.5L1198.5,18L1193,12.5Z" fill="none" stroke="#6e6e6e" stroke-width="1" shape-rendering="auto"/>
<rect x="1211.75" y="7.75" width="10.5" height="9.5" rx="2" fill="none" stroke="#787878" stroke-width="1.5" shape-rendering="auto"/>
<rect x="1218" y="9" width="3" height="7" fill="#787878"/>
<circle cx="11.7" cy="259" r="6" fill="#808080" shape-rendering="auto"/>
<path d="M8.7,257.5 L11.7,260.5 L14.7,257.5" fill="none" stroke="#202020" stroke-width="1.2" shape-rendering="auto"/>
<text x="23" y="263" fill="#c0c0c0" font-size="12" textLength="32" lengthAdjust="spacingAndGlyphs">MACD</text>
<path d="M2.5,0.5H8.5 M3,0.5L8,3 M8,0.5L3,3 M0.5,3.5H5 M1,3.5L4.5,6 M4.5,3.5L1,6 M6,3.5H10.5 M6.5,3.5L10,6 M10,3.5L6.5,6 M0,7.5H11 M0.5,7.5V8.5 M10.5,7.5V8.5 M2.5,8.5H8.5V10.5H2.5Z M0,11.5H11" transform="translate(56,253)" fill="none" stroke="#c0c0c0" stroke-width="1"/>
<path d="M0,3.5H5.5V10.5L4.5,11.5 M2.5,0V5L0,11.5 M7.5,3.5H10.5V11.5H7.5Z" transform="translate(68,253)" fill="none" stroke="#c0c0c0" stroke-width="1"/>
<text x="81" y="263" fill="#c0c0c0" font-size="12" textLength="22" lengthAdjust="spacingAndGlyphs">KDJ</text>
<text x="108.5" y="263" fill="#ffffff" font-size="12" textLength="59" lengthAdjust="spacingAndGlyphs">DIFF: -0.09</text>
<text x="173.5" y="263" fill="#ffff00" font-size="12" textLength="57" lengthAdjust="spacingAndGlyphs">DEA: -0.04</text>
<text x="237" y="263" fill="#ff00ff" font-size="12" textLength="66" lengthAdjust="spacingAndGlyphs">MACD: -0.10</text>
<text x="309.5" y="263" fill="#c8c800" font-size="12" textLength="53" lengthAdjust="spacingAndGlyphs">SH: 44.15</text>
<text x="368.5" y="263" fill="#0080ff" font-size="12" textLength="44" lengthAdjust="spacingAndGlyphs">K: 26.35</text>
<text x="418.5" y="263" fill="#00e890" font-size="12" textLength="45" lengthAdjust="spacingAndGlyphs">D: 18.67</text>
<text x="468.5" y="263" fill="#ff0000" font-size="12" textLength="43" lengthAdjust="spacingAndGlyphs">J: 41.70</text>
<circle cx="11.9" cy="620.4" r="6" fill="#808080" shape-rendering="auto"/>
<path d="M8.9,618.9 L11.9,621.9 L14.9,618.9" fill="none" stroke="#202020" stroke-width="1.2" shape-rendering="auto"/>
<text x="22.5" y="625" fill="#ffffff" font-size="12" textLength="106" lengthAdjust="spacingAndGlyphs">VOLUME: 23718.09</text>
<text x="135" y="625" fill="#ffffff" font-size="12" textLength="79" lengthAdjust="spacingAndGlyphs">MA5: 26582.58</text>
<text x="220.5" y="625" fill="#ffff00" font-size="12" textLength="86" lengthAdjust="spacingAndGlyphs">MA10: 32403.71</text>
<text x="1272" y="58" fill="#ff3232" font-size="12" text-anchor="end">6.00</text>
<text x="1272" y="84" fill="#ff3232" font-size="12" text-anchor="end">5.75</text>
<text x="1272" y="107" fill="#ff3232" font-size="12" text-anchor="end">5.50</text>
<text x="1272" y="133" fill="#ff3232" font-size="12" text-anchor="end">5.25</text>
<text x="1272" y="157" fill="#ff3232" font-size="12" text-anchor="end">5.00</text>
<text x="1272" y="183" fill="#ff3232" font-size="12" text-anchor="end">4.75</text>
<text x="1272" y="206" fill="#ff3232" font-size="12" text-anchor="end">4.50</text>
<text x="1272" y="304" fill="#ff3232" font-size="12" text-anchor="end">100.0</text>
<text x="1272" y="329" fill="#ff3232" font-size="12" text-anchor="end">90.00</text>
<text x="1272" y="354" fill="#ff3232" font-size="12" text-anchor="end">80.00</text>
<text x="1272" y="379" fill="#ff3232" font-size="12" text-anchor="end">70.00</text>
<text x="1272" y="404" fill="#ff3232" font-size="12" text-anchor="end">60.00</text>
<text x="1272" y="429" fill="#ff3232" font-size="12" text-anchor="end">50.00</text>
<text x="1272" y="455" fill="#ff3232" font-size="12" text-anchor="end">40.00</text>
<text x="1272" y="480" fill="#ff3232" font-size="12" text-anchor="end">30.00</text>
<text x="1272" y="505" fill="#ff3232" font-size="12" text-anchor="end">20.00</text>
<text x="1272" y="530" fill="#ff3232" font-size="12" text-anchor="end">10.00</text>
<text x="1272" y="555" fill="#ff3232" font-size="12" text-anchor="end">0.00</text>
<text x="1272" y="634" fill="#ff3232" font-size="12" text-anchor="end">60000</text>
<text x="1272" y="682" fill="#ff3232" font-size="12" text-anchor="end">50000</text>
<text x="1272" y="731" fill="#ff3232" font-size="12" text-anchor="end">40000</text>
<text x="1272" y="779" fill="#ff3232" font-size="12" text-anchor="end">30000</text>
<text x="1272" y="828" fill="#ff3232" font-size="12" text-anchor="end">20000</text>
<text x="1272" y="876" fill="#ff3232" font-size="12" text-anchor="end">10000</text>
<text x="1228.5" y="922" fill="#ff3232" font-size="12" textLength="21" lengthAdjust="spacingAndGlyphs">X10</text>
<text x="8.5" y="938" fill="#ff3232" font-size="12" textLength="25" lengthAdjust="spacingAndGlyphs">2021</text>
<rect x="36" y="926" width="77" height="15" fill="#000080"/>
<text x="37" y="938" fill="#c0c0c0" font-size="12" textLength="63" lengthAdjust="spacingAndGlyphs">2021/03/29/</text>
<rect x="101" y="932" width="11" height="1" fill="#c0c0c0"/>
<text x="256.5" y="938" fill="#ff3232" font-size="12">5</text>
<text x="421.5" y="938" fill="#ff3232" font-size="12">6</text>
<text x="605.5" y="938" fill="#ff3232" font-size="12">7</text>
<text x="807.5" y="938" fill="#ff3232" font-size="12">8</text>
<text x="1009.5" y="938" fill="#ff3232" font-size="12">9</text>
<text x="1193.5" y="938" fill="#ff3232" font-size="12">10</text>
<path d="M0.5,0.5H8.5V10.5H0.5Z M0.5,5.5H8.5" transform="translate(1240,927)" fill="none" stroke="#c0c0c0" stroke-width="1"/>
<path d="M3,0L0.5,3.5H3.5L0.5,7.5L4,6.5 M0,10.5L4,9.5 M5,3.5H11 M5,6.5H11 M7,-0.5L11,11.5 M9,-0.5L10,0.5 M11,7L6,11.5" transform="translate(1251,927)" fill="none" stroke="#c0c0c0" stroke-width="1"/>
</g>
<g fill="#3e3e3e" font-size="24.2" text-anchor="middle" style="mix-blend-mode:screen" shape-rendering="auto">
<text transform="translate(52,118.3) rotate(-45.5)" x="0" y="8">www.cfchi.com</text>
<text transform="translate(296.5,118.3) rotate(-45.5)" x="0" y="8">www.cfchi.com</text>
<text transform="translate(541,118.3) rotate(-45.5)" x="0" y="8">www.cfchi.com</text>
<text transform="translate(785.5,118.3) rotate(-45.5)" x="0" y="8">www.cfchi.com</text>
<text transform="translate(1030,118.3) rotate(-45.5)" x="0" y="8">www.cfchi.com</text>
<text transform="translate(1274.5,118.3) rotate(-45.5)" x="0" y="8">www.cfchi.com</text>
<text transform="translate(52,297.3) rotate(-45.5)" x="0" y="8">www.cfchi.com</text>
<text transform="translate(296.5,297.3) rotate(-45.5)" x="0" y="8">www.cfchi.com</text>
<text transform="translate(541,297.3) rotate(-45.5)" x="0" y="8">www.cfchi.com</text>
<text transform="translate(785.5,297.3) rotate(-45.5)" x="0" y="8">www.cfchi.com</text>
<text transform="translate(1030,297.3) rotate(-45.5)" x="0" y="8">www.cfchi.com</text>
<text transform="translate(1274.5,297.3) rotate(-45.5)" x="0" y="8">www.cfchi.com</text>
<text transform="translate(52,476.4) rotate(-45.5)" x="0" y="8">www.cfchi.com</text>
<text transform="translate(296.5,476.4) rotate(-45.5)" x="0" y="8">www.cfchi.com</text>
<text transform="translate(541,476.4) rotate(-45.5)" x="0" y="8">www.cfchi.com</text>
<text transform="translate(785.5,476.4) rotate(-45.5)" x="0" y="8">www.cfchi.com</text>
<text transform="translate(1030,476.4) rotate(-45.5)" x="0" y="8">www.cfchi.com</text>
<text transform="translate(1274.5,476.4) rotate(-45.5)" x="0" y="8">www.cfchi.com</text>
<text transform="translate(52,655.5) rotate(-45.5)" x="0" y="8">www.cfchi.com</text>
<text transform="translate(296.5,655.5) rotate(-45.5)" x="0" y="8">www.cfchi.com</text>
<text transform="translate(541,655.5) rotate(-45.5)" x="0" y="8">www.cfchi.com</text>
<text transform="translate(785.5,655.5) rotate(-45.5)" x="0" y="8">www.cfchi.com</text>
<text transform="translate(1030,655.5) rotate(-45.5)" x="0" y="8">www.cfchi.com</text>
<text transform="translate(1274.5,655.5) rotate(-45.5)" x="0" y="8">www.cfchi.com</text>
<text transform="translate(52,834.5) rotate(-45.5)" x="0" y="8">www.cfchi.com</text>
<text transform="translate(296.5,834.5) rotate(-45.5)" x="0" y="8">www.cfchi.com</text>
<text transform="translate(541,834.5) rotate(-45.5)" x="0" y="8">www.cfchi.com</text>
<text transform="translate(785.5,834.5) rotate(-45.5)" x="0" y="8">www.cfchi.com</text>
<text transform="translate(1030,834.5) rotate(-45.5)" x="0" y="8">www.cfchi.com</text>
<text transform="translate(1274.5,834.5) rotate(-45.5)" x="0" y="8">www.cfchi.com</text>
</g>
</svg>
</body></html>
